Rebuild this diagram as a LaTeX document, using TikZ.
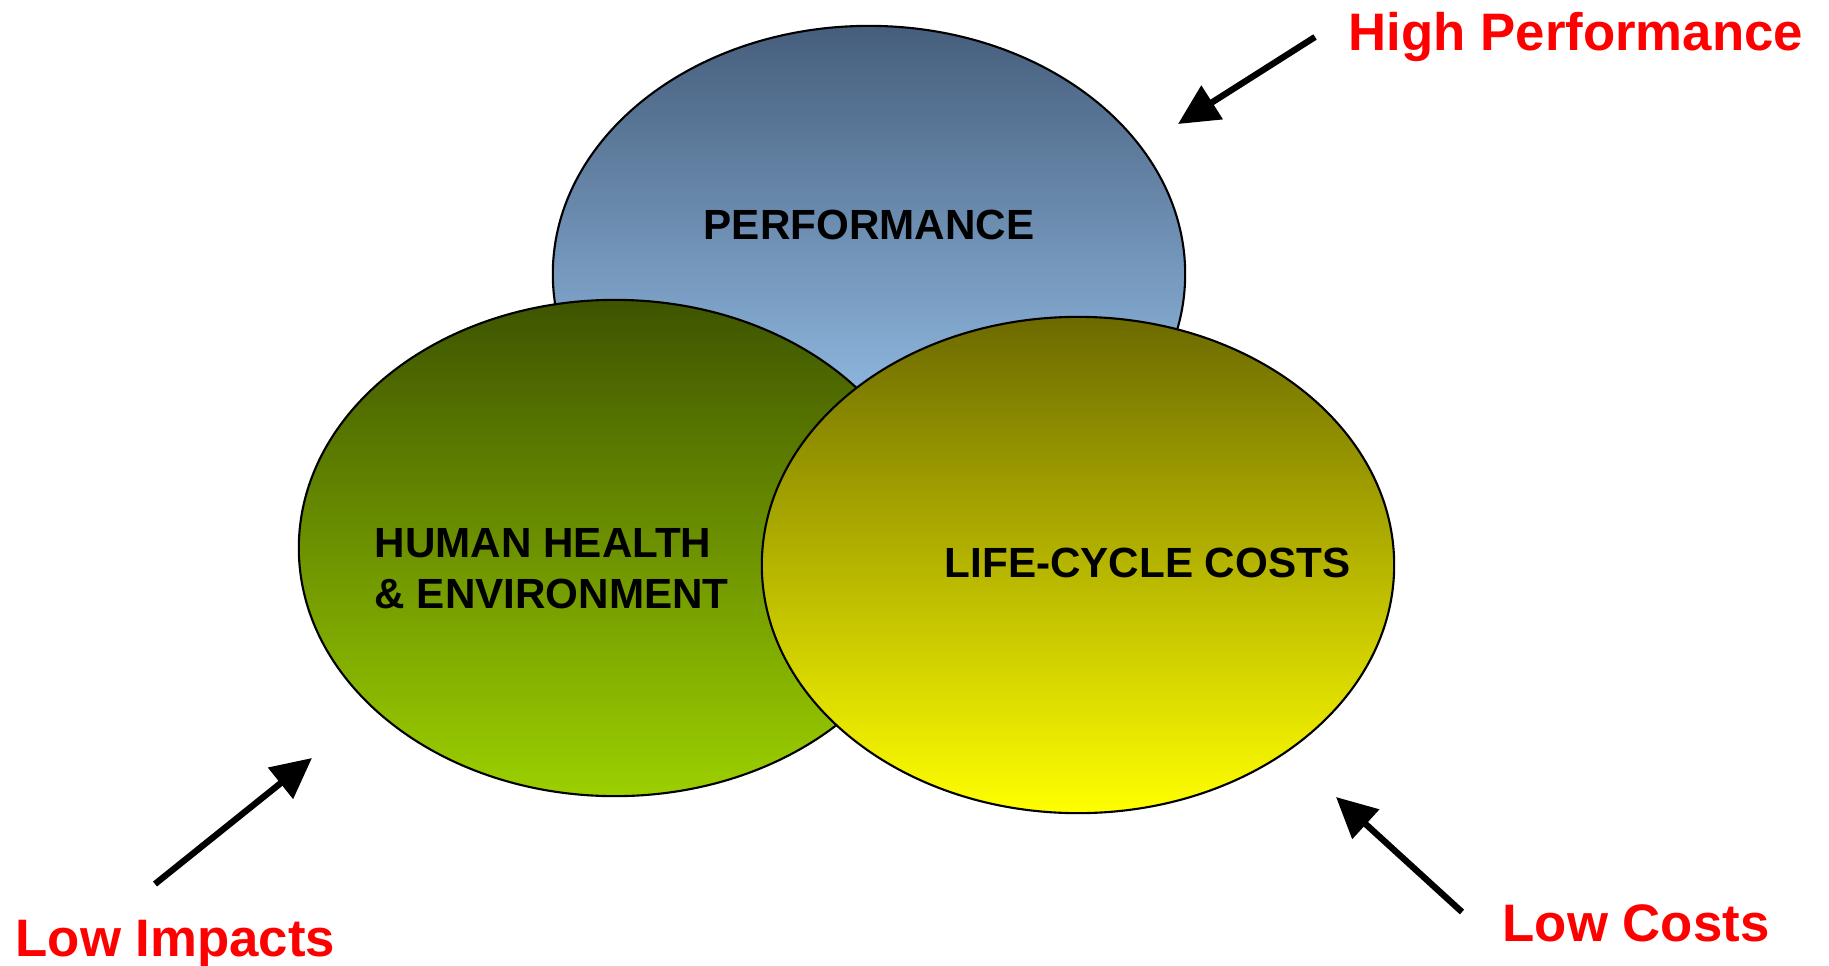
\documentclass[tikz,border=0pt]{standalone}
\usepackage{fontspec}
\setmainfont{Liberation Sans}
\usetikzlibrary{shapes.geometric,arrows.meta}
\definecolor{perfTop}{HTML}{465E7C}
\definecolor{perfBot}{HTML}{A6D4FF}
\definecolor{hhTop}{HTML}{3E5400}
\definecolor{hhBot}{HTML}{9CD000}
\definecolor{lcTop}{HTML}{6C6A00}
\definecolor{lcBot}{HTML}{FFFF00}
\definecolor{lblred}{HTML}{FF0000}
\tikzset{
  bubble/.style={ellipse, draw=black, line width=0.6pt, inner sep=0pt,
    minimum width=6.32cm, minimum height=4.96cm},
  intext/.style={font=\fontsize{12}{14.5}\selectfont\bfseries, text=black, inner sep=0pt},
  goal/.style={font=\fontsize{15}{18}\selectfont\bfseries, text=lblred, inner sep=0pt},
  pointer/.style={line width=1.8pt, -{Triangle[length=11.5pt,width=11pt]}}
}
\begin{document}
\begin{tikzpicture}[x=0.01cm,y=-0.01cm]
\useasboundingbox (0,0) rectangle (1829,966);
\node[bubble, top color=perfTop, bottom color=perfBot] (perf) at (869,274) {};
\node[bubble, top color=hhTop, bottom color=hhBot] (hh) at (615,548) {};
\node[bubble, top color=lcTop, bottom color=lcBot] (lc) at (1078,565) {};
\node[intext, anchor=base] (perfT) at (869,239) {PERFORMANCE};
\node[intext, anchor=north west, align=left] (hhT) at (374,528) {HUMAN HEALTH\\\& ENVIRONMENT};
\node[intext, anchor=base west] (lcT) at (944,577) {LIFE-CYCLE COSTS};
\node[goal, anchor=base west] (hp) at (1348,50) {High Performance};
\node[goal, anchor=base west] (li) at (15,956) {Low Impacts};
\node[goal, anchor=base west] (lco) at (1502,941) {Low Costs};
\coordinate (hpTail) at (1315,37);
\coordinate (hpTip) at (1178,124);
\coordinate (liTail) at (155,884);
\coordinate (liTip) at (312,758);
\coordinate (lcTail) at (1462,912);
\coordinate (lcTip) at (1336,797);
\draw[pointer] (hpTail) -- (hpTip);
\draw[pointer] (liTail) -- (liTip);
\draw[pointer] (lcTail) -- (lcTip);
\end{tikzpicture}
\end{document}
